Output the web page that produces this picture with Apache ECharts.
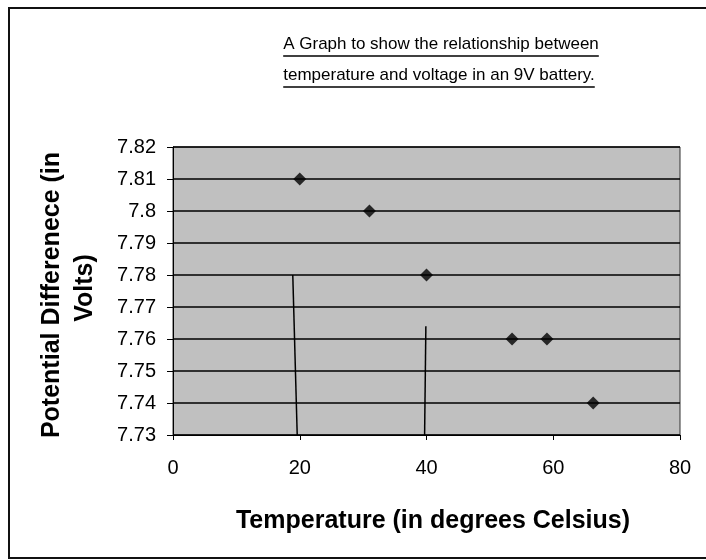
<!DOCTYPE html>
<html>
<head>
<meta charset="utf-8">
<script src="https://cdn.jsdelivr.net/npm/echarts@6/dist/echarts.min.js"></script>
<style>html,body{margin:0;padding:0;background:#fff;}#c{width:706px;height:560px;}</style>
</head>
<body>
<div id="c"></div>
<script>
// Data
const temperatures = [20, 31, 40, 53.5, 59, 66.3];
const voltages = [7.81, 7.80, 7.78, 7.76, 7.76, 7.74];
const xTicks = [0, 20, 40, 60, 80];
const yTicks = [7.73, 7.74, 7.75, 7.76, 7.77, 7.78, 7.79, 7.80, 7.81, 7.82];
// hand-drawn pen marks on the scan (data coordinates)
const penMarks = [
  [[18.9, 7.78], [19.6, 7.73]],
  [[39.9, 7.764], [39.7, 7.73]]
];
const titleLines = ['A Graph to show the relationship between', 'temperature and voltage in an 9V battery.'];
const xTitle = 'Temperature (in degrees Celsius)';
const yTitleLines = ['Potential Differenece (in', 'Volts)'];

const chart = echarts.init(document.getElementById('c'), null, {renderer: 'canvas'});
const font = 'Arial, "Liberation Sans", sans-serif';
const titleFont = '17px ' + font;
const axisTitleFont = 'bold 25px ' + font;

// measure title widths so the underline matches the text
const cv = document.createElement('canvas').getContext('2d');
cv.font = titleFont;
const w1 = cv.measureText(titleLines[0]).width;
const w2 = cv.measureText(titleLines[1]).width;
const tcx = 441;

const points = temperatures.map((t, i) => [t, voltages[i]]);

chart.setOption({
  animation: false,
  backgroundColor: '#ffffff',
  grid: {left: 173, right: 26, top: 147, bottom: 125, show: true, backgroundColor: '#c0c0c0', borderColor: '#333', borderWidth: 1},
  xAxis: {
    type: 'value', min: xTicks[0], max: xTicks[xTicks.length - 1], interval: 20,
    axisLine: {show: true, onZero: false, lineStyle: {color: '#000', width: 1}},
    axisTick: {show: true, length: 5, lineStyle: {color: '#000'}},
    splitLine: {show: false},
    axisLabel: {color: '#000', fontSize: 20, fontFamily: font, margin: 23}
  },
  yAxis: {
    type: 'value', min: yTicks[0], max: yTicks[yTicks.length - 1], interval: 0.01,
    axisLine: {show: true, lineStyle: {color: '#000', width: 1}},
    axisTick: {show: true, length: 6, lineStyle: {color: '#000'}},
    splitLine: {show: true, lineStyle: {color: '#000', width: 1.5}},
    axisLabel: {color: '#000', fontSize: 20, fontFamily: font, margin: 17,
      formatter: v => String(Number(v.toFixed(2)))}
  },
  series: [{
    type: 'scatter',
    data: points,
    symbol: 'diamond',
    symbolSize: 13,
    itemStyle: {color: '#000'},
    markLine: {
      silent: true, symbol: 'none', label: {show: false},
      lineStyle: {color: '#000', width: 1.5, type: 'solid'},
      data: penMarks.map(m => [{coord: m[0]}, {coord: m[1]}])
    }
  }],
  graphic: [
    {type: 'rect', shape: {x: 9, y: 8, width: 760, height: 550}, style: {fill: 'none', stroke: '#111', lineWidth: 2}, silent: true},
    {type: 'text', x: tcx, y: 44, style: {text: titleLines[0], font: titleFont, fill: '#000', align: 'center', verticalAlign: 'middle'}},
    {type: 'line', shape: {x1: tcx - w1 / 2, y1: 56, x2: tcx + w1 / 2, y2: 56}, style: {stroke: '#000', lineWidth: 1.5}},
    {type: 'text', x: tcx - 2, y: 75, style: {text: titleLines[1], font: titleFont, fill: '#000', align: 'center', verticalAlign: 'middle'}},
    {type: 'line', shape: {x1: tcx - 2 - w2 / 2, y1: 87, x2: tcx - 2 + w2 / 2, y2: 87}, style: {stroke: '#000', lineWidth: 1.5}},
    {type: 'text', x: 433, y: 521, style: {text: xTitle, font: axisTitleFont, fill: '#000', align: 'center', verticalAlign: 'middle'}},
    {type: 'text', x: 52, y: 295, rotation: Math.PI / 2, style: {text: yTitleLines[0], font: axisTitleFont, fill: '#000', align: 'center', verticalAlign: 'middle'}},
    {type: 'text', x: 85, y: 288, rotation: Math.PI / 2, style: {text: yTitleLines[1], font: axisTitleFont, fill: '#000', align: 'center', verticalAlign: 'middle'}}
  ]
});
</script>
</body>
</html>
